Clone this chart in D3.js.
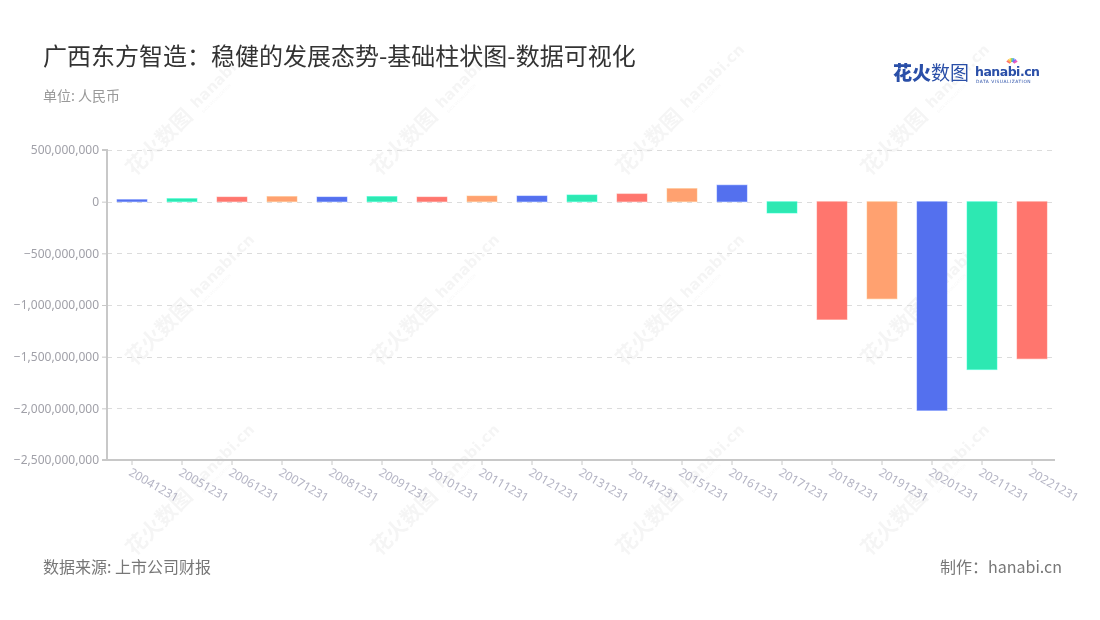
<!DOCTYPE html>
<html><head><meta charset="utf-8">
<script src="https://cdn.jsdelivr.net/npm/d3@7/dist/d3.min.js"></script>
<style>
body{margin:0;background:#fff;}
svg{display:block;font-family:"Noto Sans CJK SC","Noto Sans",sans-serif;}
</style></head>
<body><svg id="c" width="1100" height="620"></svg>
<script>
const categories = ["20041231","20051231","20061231","20071231","20081231","20091231","20101231","20111231","20121231","20131231","20141231","20151231","20161231","20171231","20181231","20191231","20201231","20211231","20221231"];
const values = [20e6,30e6,45e6,50e6,45e6,50e6,45e6,55e6,55e6,65e6,75e6,127e6,160e6,-110e6,-1140e6,-940e6,-2020e6,-1625e6,-1520e6];
const yTicks = [500e6,0,-500e6,-1000e6,-1500e6,-2000e6,-2500e6];
const palette = ["#5470EE","#2DE8B2","#FF766E","#FFA170"];
const title = "广西东方智造：稳健的发展态势-基础柱状图-数据可视化";
const unit = "单位: 人民币";
const source = "数据来源: 上市公司财报";
const maker = "制作：hanabi.cn";

const svg = d3.select("#c");
const L = 107, R = 1057, T = 150, B = 460;

// watermarks
const wm = svg.append("g").attr("fill","#000").attr("opacity",0.04);
[150,395,640,885].forEach(x=>{
  [150,340,530].forEach(y=>{
    const g = wm.append("g").attr("transform",`translate(${x},${y}) rotate(-45)`);
    g.append("text").attr("x",-30).attr("y",8).attr("font-size",21).attr("font-weight",700).text("花火数图");
    g.append("text").attr("x",62).attr("y",4).attr("font-size",15).attr("font-weight",700).attr("font-family","Verdana,DejaVu Sans,sans-serif").text("hanabi.cn");
    g.append("text").attr("x",64).attr("y",12).attr("font-size",4).text("DATA VISUALIZATION");
  });
});

const xc = d3.scaleBand().domain(categories).range([L,R]);
const y = d3.scaleLinear().domain([-2500e6,500e6]).range([B,T]);

// grid
svg.append("g").selectAll("line").data(yTicks).join("line")
  .attr("x1",L).attr("x2",1055).attr("y1",d=>Math.round(y(d))+0.5).attr("y2",d=>Math.round(y(d))+0.5)
  .attr("stroke","#dcdcdc").attr("stroke-dasharray","5,5");

// bars
svg.append("g").selectAll("rect").data(values).join("rect")
  .attr("x",(d,i)=>xc(categories[i])+xc.bandwidth()/2-15)
  .attr("width",30)
  .attr("y",d=>y(Math.max(0,d)))
  .attr("height",d=>Math.abs(y(d)-y(0)))
  .attr("fill",(d,i)=>palette[i%4])
  .attr("stroke",(d,i)=>d3.color(palette[i%4]).brighter(0.5))
  .attr("stroke-opacity",0.5).attr("stroke-width",1);

// y axis
const yAxis = d3.axisLeft(y).tickValues(yTicks).tickSize(5).tickPadding(3).tickFormat(d3.format(","));
const ya = svg.append("g").attr("transform",`translate(${L},0)`).call(yAxis);
ya.select(".domain").attr("stroke","#c8c8c8").attr("stroke-width",2).attr("d",`M-5,${T}H0V${B}`);
ya.selectAll(".tick line").attr("stroke","#c8c8c8");
ya.selectAll(".tick text").attr("fill","#a0a0a8").attr("font-size",12).attr("font-family","Noto Sans,sans-serif");

// x axis
const xAxis = d3.axisBottom(xc).tickSize(5).tickPadding(6);
const xa = svg.append("g").attr("transform",`translate(0,${B})`).call(xAxis);
xa.select(".domain").attr("stroke","#c8c8c8").attr("stroke-width",2).attr("d",`M102,0H1055`);
xa.selectAll(".tick line").attr("stroke","#c8c8c8");
xa.selectAll(".tick text").attr("fill","#b4b4c4").attr("font-size",12).attr("font-family","Noto Sans,sans-serif")
  .attr("text-anchor","start").attr("transform","translate(-2,11) rotate(30)").attr("dy","0.35em").attr("y",0);

// texts
svg.append("text").attr("x",43).attr("y",65).attr("font-size",24).attr("fill","#333").text(title);
svg.append("text").attr("x",43).attr("y",101).attr("font-size",14).attr("fill","#999").text(unit);
svg.append("text").attr("x",43).attr("y",573).attr("font-size",16).attr("fill","#777").text(source);
svg.append("text").attr("x",1062).attr("y",573).attr("font-size",16).attr("fill","#777").attr("text-anchor","end").text(maker);

// logo
const lg = svg.append("g");
lg.append("text").attr("x",893).attr("y",80).attr("font-size",19).attr("font-weight",900).attr("fill","#2a4fa8").text("花火");
lg.append("text").attr("x",931).attr("y",80).attr("font-size",19).attr("fill","#2a4fa8").text("数图");
lg.append("text").attr("x",975).attr("y",76).attr("font-size",12.5).attr("font-weight",700).attr("fill","#2a4fa8").attr("font-family","Verdana,DejaVu Sans,sans-serif").attr("letter-spacing","-0.5").text("hanabi.cn");
lg.append("text").attr("x",976).attr("y",83).attr("font-size",4.4).attr("fill","#2a4fa8").attr("font-family","DejaVu Sans,sans-serif").attr("letter-spacing","0.5").text("DATA VISUALIZATION");
const sp = ["#ff6b6b","#ffb347","#ffd93d","#6bcb77","#4d96ff","#9b5de5","#f15bb5"];
sp.forEach((c,i)=>{
  const a = -150 + i*20;
  const r = a*Math.PI/180;
  lg.append("line").attr("x1",1012+Math.cos(r)*2).attr("y1",64+Math.sin(r)*2).attr("x2",1012+Math.cos(r)*6).attr("y2",64+Math.sin(r)*6).attr("stroke",c).attr("stroke-width",1.6);
});
</script></body></html>
